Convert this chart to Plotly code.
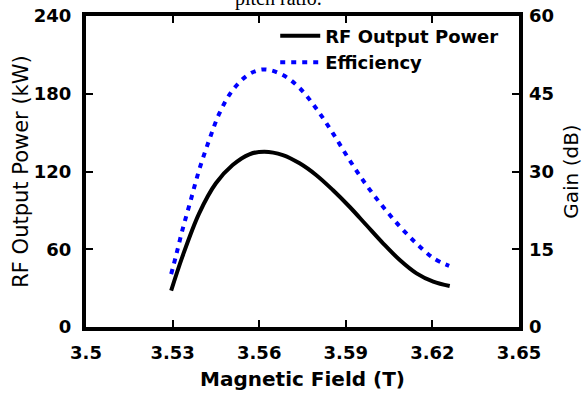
import plotly.graph_objects as go

field_power = [3.5295, 3.5334, 3.5392, 3.545, 3.5508, 3.5566, 3.5618, 3.5682, 3.574, 3.5797,
               3.5855, 3.5913, 3.5971, 3.6029, 3.6087, 3.6145, 3.6203, 3.626]
power_kw = [28, 54.3, 87.7, 110.9, 125, 133.3, 135.3, 132.7, 126.3, 117.3,
            105.7, 92.8, 78.7, 64.6, 51.7, 41.4, 35, 31.6]

field_eff = [3.5295, 3.5311, 3.5334, 3.5363, 3.5392, 3.5427, 3.5462, 3.5508, 3.5566, 3.5618,
             3.5682, 3.574, 3.5797, 3.5855, 3.5913, 3.5971, 3.6029, 3.6087, 3.6145, 3.6203, 3.6258]
efficiency = [10.2, 13.6, 18.7, 24.5, 30.3, 36.1, 41.2, 45.7, 48.8, 49.7,
              48.6, 46.1, 42.2, 37.4, 32.2, 27.4, 23.2, 19.4, 16.1, 13.3, 11.8]

x_ticks = [3.5, 3.53, 3.56, 3.59, 3.62, 3.65]
y_ticks = [0, 60, 120, 180, 240]
y2_ticks = [0, 15, 30, 45, 60]

FONT = "DejaVu Sans, Verdana, sans-serif"

fig = go.Figure()
fig.add_trace(go.Scatter(x=field_power, y=power_kw, mode="lines", name="<b>RF Output Power</b>",
                         line=dict(color="black", width=4, shape="spline")))
fig.add_trace(go.Scatter(x=field_eff, y=efficiency, mode="lines", name="<b>Efficiency</b>", yaxis="y2",
                         line=dict(color="#0000ff", width=4, dash="5px,6px", shape="spline")))

axis_common = dict(ticks="inside", ticklen=7, tickwidth=1.5, tickcolor="black", automargin=False,
                   showgrid=False, zeroline=False, tickfont=dict(size=18))

fig.update_layout(
    width=583, height=393,
    margin=dict(l=86, r=64, t=16, b=66),
    paper_bgcolor="white", plot_bgcolor="white",
    font=dict(family=FONT, color="black", size=18),
    showlegend=True,
    legend=dict(x=0.437, y=0.995, xanchor="left", yanchor="top", bgcolor="rgba(0,0,0,0)",
                font=dict(size=18, family=FONT), tracegroupgap=0, itemwidth=40),
    xaxis=dict(range=[3.5, 3.65], tickvals=x_ticks, ticktext=[f"<b>{v:g}</b>" for v in x_ticks],
               showline=True, linewidth=4, linecolor="black", mirror="ticks",
               ticklabelstandoff=6,
               title=dict(text="<b>Magnetic Field (T)</b>", font=dict(size=20), standoff=11),
               **axis_common),
    yaxis=dict(range=[0, 240], tickvals=y_ticks, ticktext=[f"<b>{v}</b>" for v in y_ticks],
               showline=True, linewidth=4, linecolor="black", mirror=True,
               ticklabelstandoff=7,
               title=dict(text="RF Output Power (kW)", font=dict(size=21), standoff=0),
               **axis_common),
    yaxis2=dict(range=[0, 60], tickvals=y2_ticks, ticktext=[f"<b>{v}</b>" for v in y2_ticks],
                overlaying="y", side="right", showline=False,
                ticklabelstandoff=9,
                title=dict(text="Gain (dB)", font=dict(size=20), standoff=13),
                **axis_common),
)

fig.add_annotation(text="pitch ratio.", xref="paper", yref="paper", x=0.445, y=1, yshift=4,
                   yanchor="bottom", showarrow=False,
                   font=dict(family="Liberation Serif, Times New Roman, serif", size=20, color="black"))

fig.write_html("out.html")
